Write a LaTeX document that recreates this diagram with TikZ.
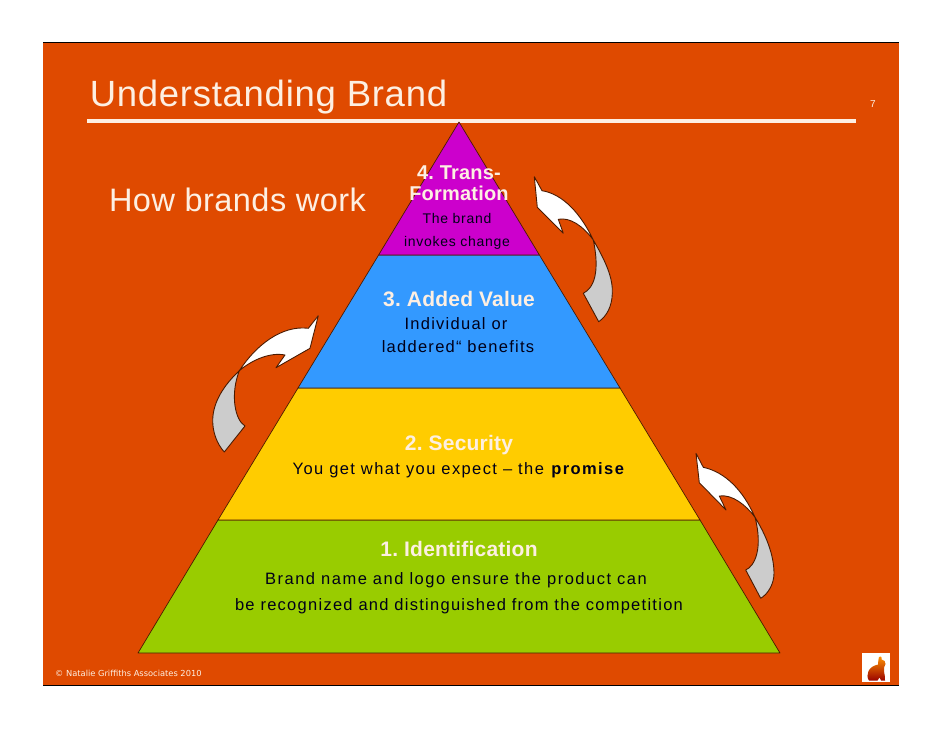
\documentclass[tikz,border=0pt]{standalone}
\usepackage{fontspec}
\setmainfont{Liberation Sans}
\newfontfamily\footfont{DejaVu Sans}
\definecolor{slidebg}{HTML}{DF4A00}
\definecolor{tierpurple}{HTML}{CC00CC}
\definecolor{tierblue}{HTML}{3399FF}
\definecolor{tieryellow}{HTML}{FFCC00}
\definecolor{tiergreen}{HTML}{99CC00}
\definecolor{arrowgray}{HTML}{CCCCCC}
\definecolor{cream}{HTML}{FDEFE2}
\definecolor{edgedark}{HTML}{4A1A00}
\tikzset{
  tier/.style={draw=edgedark,line width=0.7pt,line join=round},
  arrowhalf/.style={draw=edgedark,line width=0.9pt,line join=round},
  txt/.style={inner sep=0pt,anchor=base,align=center},
  titletxt/.style={txt,text=cream,font=\fontsize{36.5}{40}\selectfont\addfontfeature{LetterSpace=2}},
  headw/.style={txt,text=cream,font=\fontsize{21}{24}\bfseries\selectfont\addfontfeature{LetterSpace=1}},
  headtop/.style={txt,text=cream,font=\fontsize{20}{24}\bfseries\selectfont\addfontfeature{LetterSpace=1}},
  bodyk/.style={txt,text=black!90!blue,font=\fontsize{16.5}{20}\selectfont\addfontfeature{LetterSpace=7.7}},
  smallk/.style={txt,text=black!90!blue,font=\fontsize{14}{18}\selectfont\addfontfeature{LetterSpace=5}}
}
\begin{document}
\frenchspacing
\begin{tikzpicture}[x=1pt,y=-1pt]
\useasboundingbox (0,0) rectangle (942,728);
\fill[white] (0,0) rectangle (942,728);
\fill[slidebg] (43,42) rectangle (899,685);
\draw[black,line width=1pt] (43,42.5) -- (899,42.5);
\draw[black,line width=1pt] (43,685) -- (899,685);
% title rule
\fill[cream] (87,118.5) rectangle (856,122.5);
% pyramid
\coordinate (apex) at (459,122);
\coordinate (l1) at (378.6,255); \coordinate (r1) at (539.4,255);
\coordinate (l2) at (298,388);   \coordinate (r2) at (620,388);
\coordinate (l3) at (218,520);   \coordinate (r3) at (700,520);
\coordinate (l4) at (138,653);   \coordinate (r4) at (780,653);
\draw[tier,fill=tiergreen] (l3) -- (r3) -- (r4) -- (l4) -- cycle;
\draw[tier,fill=tieryellow] (l2) -- (r2) -- (r3) -- (l3) -- cycle;
\draw[tier,fill=tierblue] (l1) -- (r1) -- (r2) -- (l2) -- cycle;
\draw[tier,fill=tierpurple] (apex) -- (r1) -- (l1) -- cycle;
% arrows
% upper right
\draw[arrowhalf,fill=arrowgray] (593.3,240) .. controls (606,262) and (613,278) .. (612.3,293.3) .. controls (612,306) and (607,316) .. (598.7,321.7) -- (583.3,293.3) .. controls (594,288) and (600,272) .. (593.3,240) -- cycle;
\draw[arrowhalf,fill=white] (534.3,176.7) -- (542,190.7) .. controls (563,194) and (581,214) .. (593.3,240) .. controls (583,226) and (570,217) .. (558.3,219.3) -- (563.3,233.3) -- (537.3,207.3) -- cycle;
% left
\draw[arrowhalf,fill=arrowgray] (239.3,370.7) .. controls (224,385) and (213,402) .. (212.7,420) .. controls (212.5,432) and (217,444) .. (224.3,452) -- (245,426) .. controls (235,420) and (230,395) .. (239.3,370.7) -- cycle;
\draw[arrowhalf,fill=white] (318.3,315.7) -- (308.3,328.3) .. controls (282,325) and (256,345) .. (239.3,370.7) .. controls (252,360) and (270,352) .. (285,355) -- (276,367.7) -- (310,348.3) -- cycle;
% lower right
\draw[arrowhalf,fill=arrowgray] (755,517.3) .. controls (766,535) and (774,555) .. (774,573.3) .. controls (774,584) and (768,594) .. (760.7,598.3) -- (745.7,570) .. controls (755,566) and (763,548) .. (755,517.3) -- cycle;
\draw[arrowhalf,fill=white] (696,453.3) -- (703.3,467.3) .. controls (725,472) and (743,490) .. (755,517.3) .. controls (746,505) and (732,494) .. (719.3,496) -- (726,510) -- (699.3,482.7) -- cycle;
% texts
\node[titletxt] (title) at (268.5,106) {Understanding Brand};
\node[txt,text=cream,font=\fontsize{32.5}{36}\selectfont\addfontfeature{LetterSpace=1.5}] (sub) at (237.5,211) {How brands work};
\node[txt,text=cream,font=\fontsize{10}{12}\selectfont] (pg) at (873,107) {7};
\node[headtop] (t4a) at (459,179) {4. Trans-};
\node[headtop] (t4b) at (459,200) {Formation};
\node[smallk] (t4c) at (457,223) {The brand};
\node[smallk] (t4d) at (457,246) {invokes change};
\node[headw] (t3a) at (459,306) {3. Added Value};
\node[bodyk] (t3b) at (456,329) {Individual or};
\node[bodyk] (t3c) at (458,352) {laddered“ benefits};
\node[headw] (t2a) at (459,450) {2. Security};
\node[bodyk,font=\fontsize{16.5}{20}\selectfont\addfontfeature{LetterSpace=8.5}] (t2b) at (459,474) {You get what you expect – the \textbf{promise}};
\node[headw] (t1a) at (459,556) {1. Identification};
\node[bodyk,font=\fontsize{16.5}{20}\selectfont\addfontfeature{LetterSpace=9}] (t1b) at (456,584) {Brand name and logo ensure the product can};
\node[bodyk] (t1c) at (459,610) {be recognized and distinguished from the competition};
\node[txt,anchor=base west,text=cream,font=\footfont\fontsize{8.3}{10}\selectfont] (copy) at (55,676) {© Natalie Griffiths Associates 2010};
% logo
\fill[white] (862.3,653.3) rectangle (890,682);
\begin{scope}
\clip (879,657) .. controls (880.5,655.5) and (882,656.5) .. (881.5,659.5) .. controls (884,660) and (886,661.5) .. (885.5,664) .. controls (884.5,666) and (883.5,668) .. (884,671) .. controls (884.5,675) and (885.5,678) .. (885,680.5) -- (881,680.5) -- (879.5,677.5) -- (877.5,680.5) -- (869,680.5) .. controls (867,678) and (867,674) .. (868.5,671) .. controls (870,667.5) and (874,665.5) .. (878,664.5) .. controls (878.5,662) and (878,659) .. (879,657) -- cycle;
\shade[top color=orange!85!yellow,middle color=red!75!orange,bottom color=red!60!black] (862.3,656) rectangle (890,681);
\end{scope}
\end{tikzpicture}
\end{document}
